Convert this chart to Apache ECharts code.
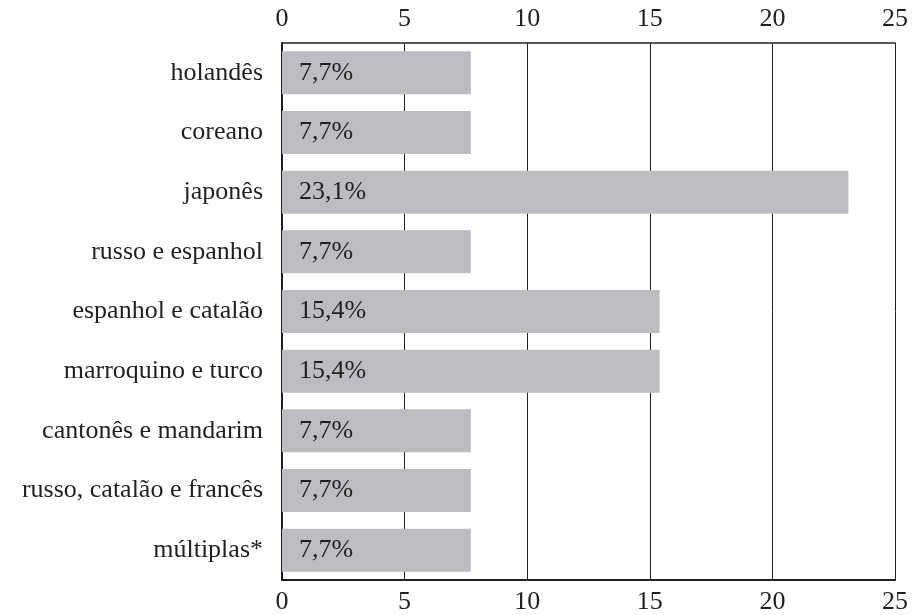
<!DOCTYPE html>
<html>
<head>
<meta charset="utf-8">
<script src="https://cdn.jsdelivr.net/npm/echarts@6/dist/echarts.min.js"></script>
<style>
  html, body { margin: 0; padding: 0; background: #fff; }
  #main { width: 913px; height: 615px; }
</style>
</head>
<body>
<div id="main"></div>
<script>
const categories = ['holandês', 'coreano', 'japonês', 'russo e espanhol', 'espanhol e catalão',
  'marroquino e turco', 'cantonês e mandarim', 'russo, catalão e francês', 'múltiplas*']
const values = [7.7, 7.7, 23.1, 7.7, 15.4, 15.4, 7.7, 7.7, 7.7]
const ticks = [0, 5, 10, 15, 20, 25]

const FONT = '"Liberation Serif", "DejaVu Serif", serif'
const chart = echarts.init(document.getElementById('main'))

function xAxisCfg(pos, lineW, grid, margin) {
  return {
    type: 'value',
    position: pos,
    min: ticks[0],
    max: ticks[ticks.length - 1],
    interval: 5,
    axisLine: { show: true, onZero: false, lineStyle: { color: '#231f20', width: lineW } },
    axisTick: { show: false },
    splitLine: { show: grid, lineStyle: { color: '#231f20', width: 1 } },
    axisLabel: { fontFamily: FONT, fontSize: 26, color: '#231f20', margin: margin }
  }
}

chart.setOption({
  animation: false,
  grid: { left: 282, right: 18, top: 43, bottom: 35 },
  xAxis: [xAxisCfg('top', 1.5, true, 11), xAxisCfg('bottom', 2, false, 9)],
  yAxis: {
    type: 'category',
    data: categories,
    inverse: true,
    axisLine: { show: true, lineStyle: { color: '#231f20', width: 2 } },
    axisTick: { show: false },
    axisLabel: { fontFamily: FONT, fontSize: 26, color: '#231f20', margin: 19 }
  },
  series: [{
    type: 'bar',
    xAxisIndex: 0,
    data: values,
    barWidth: '72%',
    itemStyle: { color: '#bcbdc0' },
    label: {
      show: true,
      position: 'insideLeft',
      distance: 17,
      fontFamily: FONT,
      fontSize: 26,
      color: '#231f20',
      formatter: p => String(p.value).replace('.', ',') + '%'
    }
  }]
})
</script>
</body>
</html>
